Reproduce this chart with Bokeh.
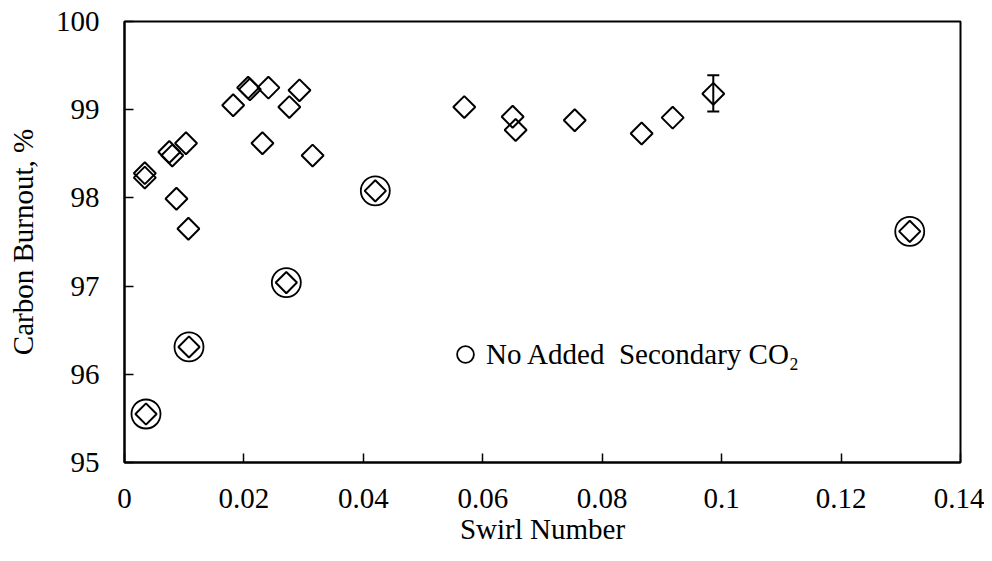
import math
from bokeh.plotting import figure
from bokeh.models import (ColumnDataSource, FixedTicker, Whisker, TeeHead,
                          Legend, LegendItem, Range1d)
from bokeh.embed import file_html
from bokeh.resources import INLINE

# Data
swirl = [0.0034, 0.0034, 0.0075, 0.0080, 0.0103, 0.0087, 0.0107, 0.0182,
         0.0207, 0.0210, 0.0241, 0.0231, 0.0276, 0.0293, 0.0315, 0.0569,
         0.0650, 0.0655, 0.0754, 0.0866, 0.0918, 0.0986]
burnout = [98.28, 98.23, 98.52, 98.48, 98.62, 97.99, 97.65, 99.05,
           99.25, 99.23, 99.25, 98.62, 99.03, 99.22, 98.48, 99.03,
           98.92, 98.77, 98.88, 98.73, 98.91, 99.18]

no_co2_swirl = [0.0036, 0.0108, 0.0271, 0.0420, 0.1315]
no_co2_burnout = [95.55, 96.31, 97.04, 98.08, 97.62]

err_swirl = [0.0986]
err_low = [98.98]
err_high = [99.39]

x_ticks = [0.0, 0.02, 0.04, 0.06, 0.08, 0.1, 0.12, 0.14]
x_tick_labels = ["0", "0.02", "0.04", "0.06", "0.08", "0.1", "0.12", "0.14"]
y_ticks = [95, 96, 97, 98, 99, 100]
y_tick_labels = ["95", "96", "97", "98", "99", "100"]

legend_label = "No Added\u00a0 Secondary CO\u2082"
x_title = "Swirl Number"
y_title = "Carbon Burnout, %"

FONT = "'Liberation Serif', 'Times New Roman', serif"
FS = "29px"

p = figure(frame_width=836, frame_height=441,
           x_range=Range1d(0, 0.14), y_range=Range1d(95, 100),
           output_backend="svg", toolbar_location=None,
           min_border_left=124, min_border_right=24,
           min_border_top=21, min_border_bottom=91,
           background_fill_color="white", border_fill_color="white")

p.outline_line_color = "black"
p.outline_line_width = 2
p.xgrid.grid_line_color = None
p.ygrid.grid_line_color = None

for ax in (p.xaxis[0], p.yaxis[0]):
    ax.axis_line_width = 2
    ax.axis_line_color = "black"
    ax.major_tick_line_width = 1.5
    ax.major_tick_line_color = "black"
    ax.major_tick_in = 9
    ax.major_tick_out = 0
    ax.minor_tick_line_color = None
    ax.major_label_text_font = FONT
    ax.major_label_text_font_size = FS
    ax.major_label_text_color = "black"
    ax.axis_label_text_font = FONT
    ax.axis_label_text_font_size = FS
    ax.axis_label_text_font_style = "normal"
    ax.axis_label_text_color = "black"

p.xaxis.ticker = FixedTicker(ticks=x_ticks)
p.xaxis.major_label_overrides = dict(zip(x_ticks, x_tick_labels))
p.yaxis.ticker = FixedTicker(ticks=y_ticks)
p.yaxis.major_label_overrides = dict(zip(y_ticks, y_tick_labels))
p.xaxis.axis_label = x_title
p.yaxis.axis_label = y_title
p.xaxis.major_label_standoff = 26
p.xaxis.axis_label_standoff = 2
p.yaxis.major_label_standoff = 25
p.yaxis.axis_label_standoff = 14

src_main = ColumnDataSource(dict(x=swirl, y=burnout))
src_no = ColumnDataSource(dict(x=no_co2_swirl, y=no_co2_burnout))

p.scatter("x", "y", source=src_main, marker="square", angle=math.pi / 4,
          size=15.5, fill_color=None, line_color="black", line_width=2)
p.scatter("x", "y", source=src_no, marker="square", angle=math.pi / 4,
          size=15, fill_color=None, line_color="black", line_width=2)
circ = p.scatter("x", "y", source=src_no, marker="circle", size=29,
                 fill_color=None, line_color="black", line_width=1.8)

src_err = ColumnDataSource(dict(x=err_swirl, lower=err_low, upper=err_high))
whisk = Whisker(source=src_err, base="x", lower="lower", upper="upper",
                dimension="height", line_color="black", line_width=2,
                upper_head=TeeHead(size=12, line_width=2, line_color="black"),
                lower_head=TeeHead(size=12, line_width=2, line_color="black"))
p.add_layout(whisk)

legend = Legend(items=[LegendItem(label=legend_label, renderers=[circ])],
                location=(320, 87), border_line_color=None,
                background_fill_alpha=0, padding=0, margin=0,
                glyph_width=42, glyph_height=42, label_standoff=-8,
                label_text_font=FONT, label_text_font_size=FS,
                label_text_color="black", spacing=0)
p.add_layout(legend)

open("out.html", "w").write(file_html(p, INLINE))
